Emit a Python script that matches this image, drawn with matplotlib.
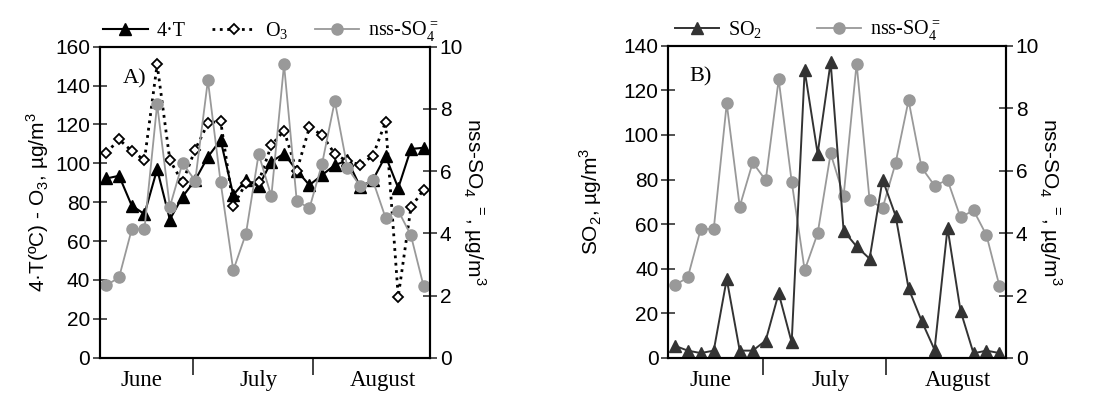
import numpy as np
import matplotlib.pyplot as plt

plt.rcParams['font.family'] = 'Liberation Sans'
plt.rcParams['mathtext.fontset'] = 'custom'
plt.rcParams['mathtext.rm'] = 'Liberation Serif'
plt.rcParams['mathtext.sf'] = 'Liberation Sans'

# 26 samples, June-August
temp4 = [92.2, 93.6, 78.2, 73.9, 97.0, 71.1, 82.8, 91.4, 103.3, 112.0, 83.7, 91.4, 88.2,
         100.8, 105.0, 96.3, 88.8, 94.0, 99.1, 101.5, 88.0, 91.4, 103.8, 87.3, 107.4, 108.0]
o3 = [105.4, 112.3, 106.3, 101.7, 150.9, 101.7, 90.2, 107.1, 120.5, 121.9, 78.2, 89.7, 90.4,
      109.3, 116.8, 96.0, 118.5, 114.6, 104.8, 101.0, 99.3, 103.8, 121.3, 31.4, 77.3, 86.5]
so2 = [5.5, 3.3, 2.2, 3.3, 35.4, 3.3, 3.3, 7.8, 29.0, 7.0, 129.0, 91.6, 132.6,
       57.0, 50.0, 44.5, 80.0, 63.8, 31.2, 16.7, 3.7, 58.3, 21.2, 2.1, 3.3, 2.2]
nss_so4 = [2.33, 2.58, 4.13, 4.13, 8.15, 4.85, 6.26, 5.69, 8.92, 5.65, 2.81, 3.99, 6.55,
           5.19, 9.43, 5.05, 4.8, 6.24, 8.25, 6.1, 5.52, 5.7, 4.5, 4.73, 3.93, 2.3]
months = ['June', 'July', 'August']
month_pos = [2.75, 12.0, 21.8]
month_edges = [6.8, 16.3]

x = np.arange(len(temp4))
grey = '#999999'
serif = 'Liberation Serif'

fig = plt.figure(figsize=(11.09, 3.94), dpi=100)
axA = fig.add_axes([0.0902, 0.0921, 0.2975, 0.7894])
axB = fig.add_axes([0.6026, 0.0914, 0.3045, 0.7926])


def style_axes(ax, ax2, ymax, ystep):
    ax.set_xlim(-0.5, 25.5)
    ax.set_ylim(0, ymax)
    ax.set_yticks(np.arange(0, ymax + 1, ystep))
    ax2.set_ylim(0, 10)
    ax2.set_yticks(np.arange(0, 11, 2))
    for a in (ax, ax2):
        a.tick_params(axis='y', direction='inout', length=10, width=1.3,
                      colors='#444444', labelcolor='black', labelsize=15, pad=2)
        for s in a.spines.values():
            s.set_linewidth(1.5)
    ax.set_xticks(month_edges)
    ax.set_xticklabels(['', ''])
    ax.tick_params(axis='x', which='major', direction='out', length=12, width=1.3,
                   colors='#333333')
    ax.set_xticks(month_pos, minor=True)
    ax.set_xticklabels(months, minor=True, fontfamily=serif, fontsize=16.5)
    ax.tick_params(axis='x', which='minor', length=0, pad=9)
    ax.set_zorder(ax2.get_zorder() + 1)
    ax.patch.set_visible(False)


# panel A
axA2 = axA.twinx()
l1, = axA.plot(x, temp4, color='black', lw=1.5, marker='^', ms=8.5, label='4·T')
l2, = axA.plot(x, o3, color='black', lw=2, ls=':', marker='D', ms=5.5,
               mfc='white', mec='black', mew=1.3, label='O$_3$')
l3, = axA2.plot(x, nss_so4, color=grey, lw=1.3, marker='o', ms=8,
                label='nss-SO$_4^=$')
style_axes(axA, axA2, 160, 20)
axA.set_zorder(0)
axA2.set_zorder(1)
axA.patch.set_visible(True)
axA2.patch.set_visible(False)
axA.set_ylabel(r'4·T(ºC) - O$_{\mathsf{3}}$, µg/m$^{\mathsf{3}}$', fontsize=15, labelpad=3)
axA2.set_ylabel(r'nss-SO$_{\mathsf{4}}$ $^{\mathsf{=}}$, µg/m$^{\mathsf{3}}$',
                fontsize=15, rotation=270, labelpad=18)
axA.text(0.07, 0.883, 'A)', transform=axA.transAxes, fontfamily=serif, fontsize=16)
axA2.legend(handles=[l1, l2, l3], loc='center left', bbox_to_anchor=(0.01, 1.048),
            ncol=3, frameon=False, prop={'family': serif, 'size': 14.5},
            handlelength=2.2, handletextpad=0.45, columnspacing=1.3,
            borderaxespad=0, borderpad=0)

# panel B
axB2 = axB.twinx()
m1, = axB.plot(x, so2, color='#333333', lw=1.4, marker='^', ms=8.5, label='SO$_2$')
m2, = axB2.plot(x, nss_so4, color=grey, lw=1.3, marker='o', ms=8,
                label='nss-SO$_4^=$')
style_axes(axB, axB2, 140, 20)
axB.set_ylabel(r'SO$_{\mathsf{2}}$, µg/m$^{\mathsf{3}}$', fontsize=15, labelpad=14)
axB2.set_ylabel(r'nss-SO$_{\mathsf{4}}$ $^{\mathsf{=}}$, µg/m$^{\mathsf{3}}$',
                fontsize=15, rotation=270, labelpad=18)
axB.text(0.062, 0.886, 'B)', transform=axB.transAxes, fontfamily=serif, fontsize=16)
axB.legend(handles=[m1, m2], loc='center left', bbox_to_anchor=(0.02, 1.048),
           ncol=2, frameon=False, prop={'family': serif, 'size': 14.5},
           handlelength=2.2, handletextpad=0.45, columnspacing=2.7,
           borderaxespad=0, borderpad=0)

fig.savefig('out.png', dpi=100)
plt.close(fig)
